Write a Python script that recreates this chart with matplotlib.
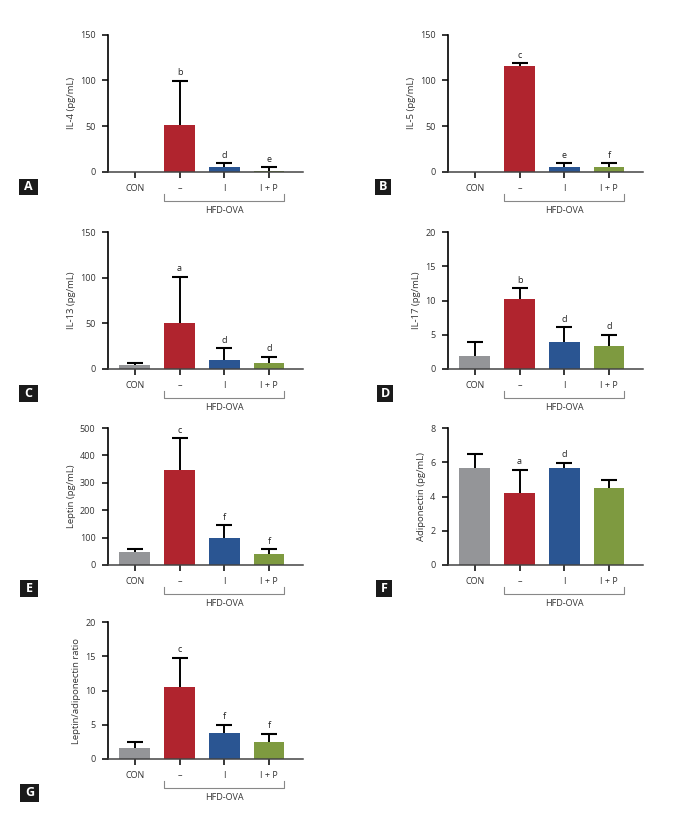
import numpy as np
import matplotlib.pyplot as plt
from matplotlib.patches import Rectangle

plt.rcParams['font.family'] = ['Open Sans', 'DejaVu Sans']

# grupos y colores
grupos = ["CON", "\u2013", "I", "I + P"]
colores = ["#949598", "#B0242E", "#2A5592", "#7E9A40"]

# valores (media y error superior)
il4 = [0.0, 50.8, 5.4, 0.5]
il4_err = [0.0, 48.7, 3.7, 4.2]
il4_letras = ["", "b", "d", "e"]

il5 = [0.0, 115.5, 5.4, 5.4]
il5_err = [0.0, 3.5, 3.6, 3.6]
il5_letras = ["", "c", "e", "f"]

il13 = [4.4, 50.9, 10.2, 6.2]
il13_err = [2.6, 50.1, 12.5, 7.3]
il13_letras = ["", "a", "d", "d"]

il17 = [1.84, 10.2, 3.96, 3.38]
il17_err = [2.06, 1.6, 2.14, 1.6]
il17_letras = ["", "b", "d", "d"]

leptina = [47, 345, 99.5, 40]
leptina_err = [11, 118.6, 45, 18]
leptina_letras = ["", "c", "f", "f"]

adipo = [5.65, 4.19, 5.65, 4.5]
adipo_err = [0.82, 1.38, 0.33, 0.47]
adipo_letras = ["", "a", "d", ""]

ratio = [1.59, 10.55, 3.76, 2.41]
ratio_err = [0.87, 4.25, 1.25, 1.3]
ratio_letras = ["", "c", "f", "f"]

W, H = 685, 819
fig = plt.figure(figsize=(W/100, H/100), dpi=100)

def ejes(x0, y_cero, ancho=195, alto=137):
    # posiciones en pixeles (origen arriba-izquierda)
    return fig.add_axes([x0/W, (H - y_cero)/H, ancho/W, alto/H])

def panel(ax, vals, errs, letras, ylabel, yticks, etiqueta, caja):
    x = np.arange(4)
    ax.bar(x, vals, width=0.69, color=colores, zorder=2)
    for i in range(4):
        if errs[i] > 0:
            # solo la mitad superior del error, con su tope
            ax.vlines(x[i], vals[i], vals[i] + errs[i], color="black",
                      lw=1.4, zorder=3)
            ax.plot(x[i], vals[i] + errs[i], marker="_", markersize=11,
                    markeredgewidth=1.5, color="black", zorder=3)
        if letras[i]:
            ax.text(x[i], vals[i] + errs[i] + yticks[-1]*0.025, letras[i],
                    ha="center", va="bottom", fontsize=6.5, color="#222222")
    ax.set_xlim(-0.6, 3.76)
    ax.set_ylim(0, yticks[-1])
    ax.set_yticks(yticks)
    ax.set_xticks(x)
    ax.set_xticklabels(grupos)
    ax.set_ylabel(ylabel, fontsize=6.8, color="#333333", labelpad=3)
    ax.tick_params(labelsize=6.5, labelcolor="#333333", length=4, width=1.1,
                   color="black", pad=5)
    ax.spines["top"].set_visible(False)
    ax.spines["right"].set_visible(False)
    ax.spines["left"].set_linewidth(1.2)
    ax.spines["bottom"].set_linewidth(1.1)
    ax.spines["bottom"].set_color("#444444")

    # corchete HFD-OVA
    alto = ax.get_position().height * H
    tr = ax.get_xaxis_transform()
    y1 = -22/alto
    y2 = -29/alto
    ax.plot([0.655, 0.655, 3.345, 3.345], [y1, y2, y2, y1], transform=tr,
            color="#888888", lw=0.8, clip_on=False)
    ax.text(2.0, -39/alto, "HFD-OVA", transform=tr, ha="center", va="center",
            fontsize=6.5, color="#333333")

    # recuadro con la letra del panel
    bx0, by0, bx1, by1 = caja
    fig.patches.append(Rectangle((bx0/W, 1 - by1/H), (bx1-bx0)/W, (by1-by0)/H,
                                 transform=fig.transFigure, facecolor="#1a1a1a",
                                 edgecolor="none"))
    fig.text((bx0+bx1)/2/W, 1 - (by0+by1)/2/H, etiqueta, ha="center",
             va="center", color="white", fontsize=9, fontweight="bold")

ax = ejes(108, 171.7)
panel(ax, il4, il4_err, il4_letras, "IL-4 (pg/mL)", [0, 50, 100, 150], "A",
      (19, 179, 38, 195))
ax = ejes(448, 171.7)
panel(ax, il5, il5_err, il5_letras, "IL-5 (pg/mL)", [0, 50, 100, 150], "B",
      (375, 179, 391, 195))
ax = ejes(108, 369)
panel(ax, il13, il13_err, il13_letras, "IL-13 (pg/mL)", [0, 50, 100, 150], "C",
      (19, 385, 38, 402))
ax = ejes(448, 369)
panel(ax, il17, il17_err, il17_letras, "IL-17 (pg/mL)", [0, 5, 10, 15, 20], "D",
      (377, 385, 393, 402))
ax = ejes(108, 565)
panel(ax, leptina, leptina_err, leptina_letras, "Leptin (pg/mL)",
      [0, 100, 200, 300, 400, 500], "E", (20, 580, 38, 597))
ax = ejes(448, 565)
panel(ax, adipo, adipo_err, adipo_letras, "Adiponectin (pg/mL)",
      [0, 2, 4, 6, 8], "F", (376, 580, 392, 597))
ax = ejes(108, 759)
panel(ax, ratio, ratio_err, ratio_letras, "Leptin/adiponectin ratio",
      [0, 5, 10, 15, 20], "G", (20, 784, 39, 802))

fig.savefig("out.png", dpi=100)
